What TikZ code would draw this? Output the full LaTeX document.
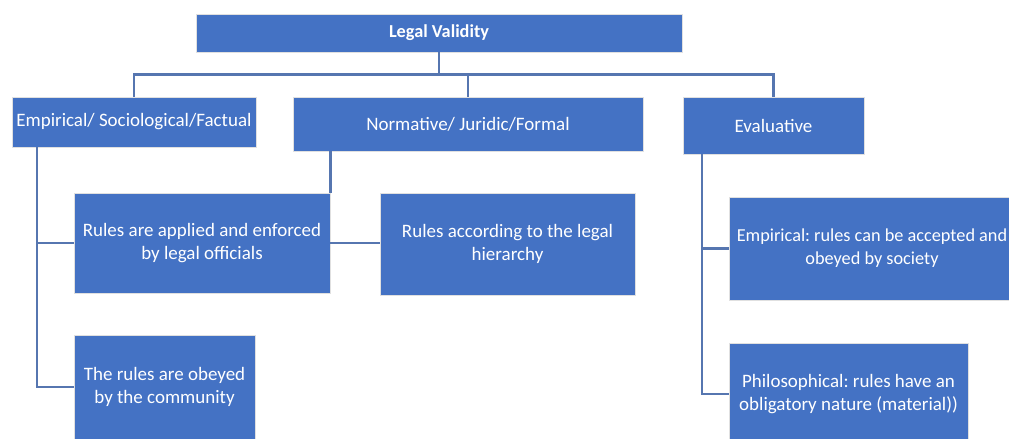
\documentclass[tikz,border=0pt]{standalone}
\usepackage{fontspec}
\setmainfont{Carlito}
\frenchspacing
\usetikzlibrary{positioning, calc}
\definecolor{lblue}{RGB}{68,114,196}
\definecolor{lline}{RGB}{86,118,176}

\begin{document}
\begin{tikzpicture}[x=0.25mm, y=-0.25mm,
  root/.style={draw=black!12, line width=0.6pt, fill=lblue, text=white,
               font=\fontsize{13}{15}\selectfont\bfseries, align=center, inner sep=0pt},
  cat/.style={draw=black!12, line width=0.6pt, fill=lblue, text=white,
              font=\fontsize{13.5}{16.5}\selectfont, align=center, inner sep=0pt},
  leaf/.style={cat},
  conn/.style={lline, line width=0.65mm}
]
\useasboundingbox (0,0) rectangle (1009,438);
\clip (0,0) rectangle (1009,438);
\node[root, minimum width=121.5mm, minimum height=9.5mm]   (lv)    at (439, 33)    {Legal Validity};
\node[cat,  minimum width=61mm,    minimum height=12.5mm]  (emp)   at (134, 122)   {Empirical/ Sociological/Factual};
\node[cat,  minimum width=87.5mm,  minimum height=13.5mm]  (norm)  at (468, 124)   {Normative/ Juridic/Formal};
\node[cat,  minimum width=45.25mm, minimum height=14.25mm] (eval)  at (773.5, 125.5) {Evaluative};
\node[leaf, minimum width=64mm,    minimum height=25mm]    (appl)  at (202, 243)   {Rules are applied and enforced\\by legal officials};
\node[leaf, minimum width=63.75mm, minimum height=25.5mm]  (hier)  at (507.5, 244) {Rules according to the legal\\hierarchy};
\node[leaf, minimum width=45.25mm, minimum height=26mm]    (comm)  at (164.5, 387) {The rules are obeyed\\by the community};
\node[leaf, minimum width=71.5mm,  minimum height=25.75mm, font=\fontsize{13}{16.5}\selectfont] (evemp) at (872, 248.5) {Empirical: rules can be accepted and\\obeyed by society};
\node[leaf, minimum width=59.75mm, minimum height=25.5mm]  (phil)  at (848.5, 394) {Philosophical: rules have an\\obligatory nature (material))};
\coordinate (bus)  at ($(lv.south)+(0,22)$);
\coordinate (ebar) at (37, 0);
\coordinate (vbar) at (702, 0);
\draw[conn] (lv.south) -- (bus);
\draw[conn] (emp.north) |- (bus) -| (eval.north);
\draw[conn] (norm.north) -- (norm.north |- bus);
\draw[conn] (norm.south -| appl.north east) -- (appl.north east);
\draw[conn] (appl.east) -- (appl.east -| hier.west);
\draw[conn] (emp.south -| ebar) |- (comm.west);
\draw[conn] (ebar |- appl.west) -- (appl.west);
\draw[conn] (eval.south -| vbar) |- (phil.west);
\draw[conn] (vbar |- evemp.west) -- (evemp.west);
\end{tikzpicture}
\end{document}
